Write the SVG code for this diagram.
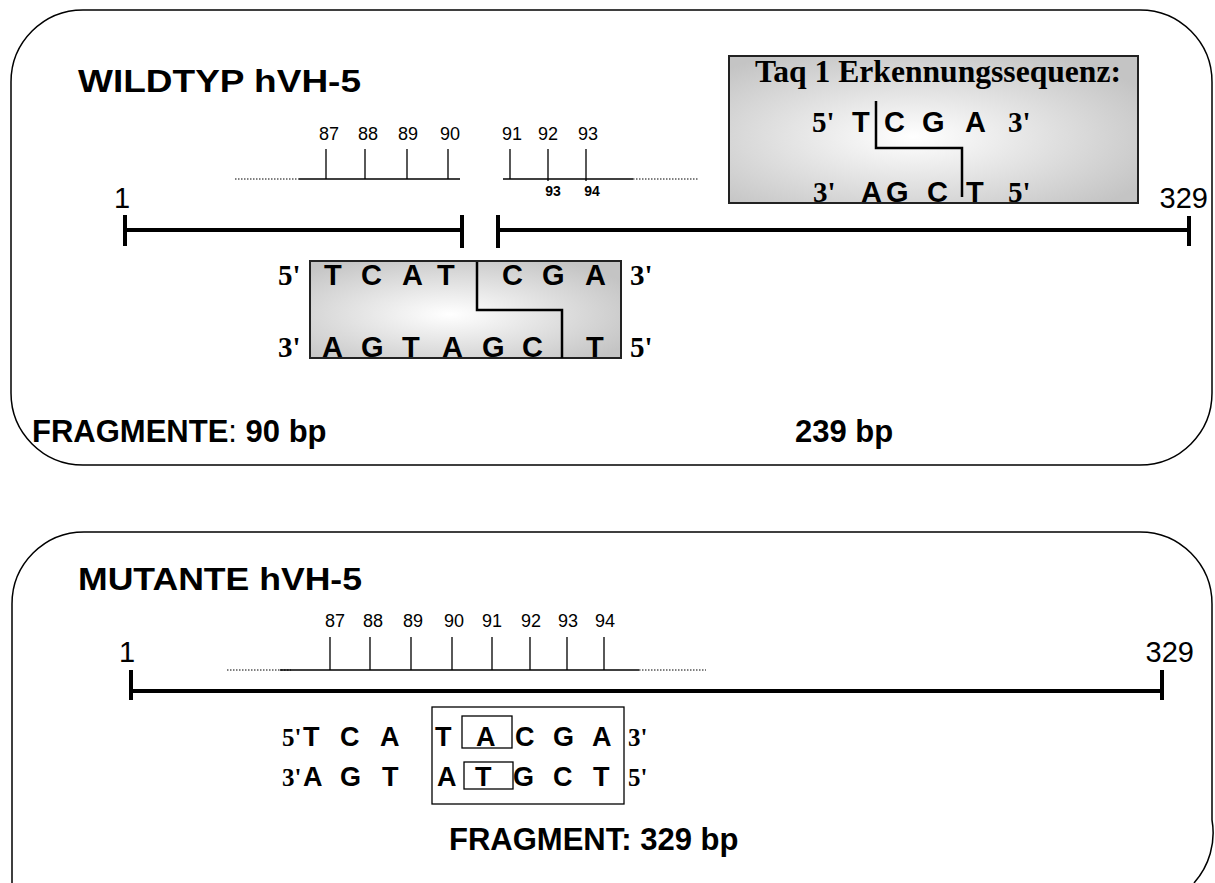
<svg xmlns="http://www.w3.org/2000/svg" width="1215" height="883" viewBox="0 0 1215 883">
<defs>
<radialGradient id="shade" cx="45%" cy="55%" r="65%">
<stop offset="0" stop-color="#ffffff"/>
<stop offset="1" stop-color="#c4c4c4"/>
</radialGradient>
<style>
.frame{fill:none;stroke:#000;stroke-width:1.5}
.box{fill:url(#shade);stroke:#222;stroke-width:2}
.plain{fill:none;stroke:#000;stroke-width:1.3}
.thin{fill:none;stroke:#000;stroke-width:1.3}
.dot{fill:none;stroke:#000;stroke-width:1;stroke-dasharray:1.5 1.5}
.bar{fill:none;stroke:#000;stroke-width:4}
.cut{fill:none;stroke:#000;stroke-width:2.5}
.title{font-family:"Liberation Sans",Arial,sans-serif;font-weight:bold;font-size:32px}
.num{font-family:"Liberation Sans",Arial,sans-serif;font-size:18px;text-anchor:middle}
.numb{font-family:"Liberation Sans",Arial,sans-serif;font-weight:bold;font-size:14px;text-anchor:middle}
.big{font-family:"Liberation Sans",Arial,sans-serif;font-size:29px}
.seq{font-family:"Liberation Sans",Arial,sans-serif;font-weight:bold;font-size:29px}
.end{font-family:"Liberation Serif","Times New Roman",serif;font-weight:bold;font-size:29px}
.seqm{font-family:"Liberation Sans",Arial,sans-serif;font-weight:bold;font-size:27px}
.endm{font-family:"Liberation Serif","Times New Roman",serif;font-weight:bold;font-size:25px}
.taq{font-family:"Liberation Serif","Times New Roman",serif;font-weight:bold;font-size:32px}
.lab{font-family:"Liberation Sans",Arial,sans-serif;font-weight:bold;font-size:31px}
</style>
</defs>

<g id="wildtyp">
<rect class="frame" x="11" y="10" width="1201" height="455" rx="72" ry="72"/>
<text class="title" x="78" y="92" textLength="283" lengthAdjust="spacingAndGlyphs">WILDTYP hVH-5</text>
<text class="big" x="114" y="208">1</text>
<text class="big" x="1208" y="208" text-anchor="end">329</text>
<text class="num" x="329" y="140">87</text>
<text class="num" x="368" y="140">88</text>
<text class="num" x="408" y="140">89</text>
<text class="num" x="450" y="140">90</text>
<text class="num" x="512" y="140">91</text>
<text class="num" x="548" y="140">92</text>
<text class="num" x="588" y="140">93</text>
<text class="numb" x="553" y="196">93</text>
<text class="numb" x="592" y="196">94</text>
<text class="lab" x="32" y="442">FRAGMENTE<tspan font-weight="normal">:</tspan> 90 bp</text>
<text class="lab" x="795" y="442">239 bp</text>
</g>

<g id="taq-box">
<rect class="box" x="729" y="56" width="409" height="147"/>
<text class="taq" x="755" y="82" textLength="366" lengthAdjust="spacingAndGlyphs">Taq 1 Erkennungssequenz:</text>
<text class="end" x="812" y="132">5'</text>
<text class="seq" x="852" y="132">T</text>
<text class="seq" x="884" y="132">C</text>
<text class="seq" x="922" y="132">G</text>
<text class="seq" x="965" y="132">A</text>
<text class="end" x="1008" y="132">3'</text>
<text class="end" x="813" y="202">3'</text>
<text class="seq" x="861" y="202">A</text>
<text class="seq" x="886" y="202">G</text>
<text class="seq" x="927" y="202">C</text>
<text class="seq" x="966" y="202">T</text>
<text class="end" x="1008" y="202">5'</text>
<path class="cut" d="M876,101 V148 H962 V197"/>
</g>

<g id="wt-sequence">
<rect class="box" x="310" y="261" width="311" height="97" stroke-width="1.5"/>
<text class="end" x="278" y="285">5'</text>
<text class="seq" x="324" y="285">T</text>
<text class="seq" x="361" y="285">C</text>
<text class="seq" x="402" y="285">A</text>
<text class="seq" x="437" y="285">T</text>
<text class="seq" x="502" y="285">C</text>
<text class="seq" x="542" y="285">G</text>
<text class="seq" x="585" y="285">A</text>
<text class="end" x="630" y="285">3'</text>
<text class="end" x="278" y="357">3'</text>
<text class="seq" x="322" y="357">A</text>
<text class="seq" x="361" y="357">G</text>
<text class="seq" x="402" y="357">T</text>
<text class="seq" x="442" y="357">A</text>
<text class="seq" x="482" y="357">G</text>
<text class="seq" x="522" y="357">C</text>
<text class="seq" x="586" y="357">T</text>
<text class="end" x="630" y="357">5'</text>
<path class="cut" d="M477,262 V310 H562 V358"/>
</g>

<g id="mutante">
<path class="frame" d="M12,883 V604 A72,72 0 0 1 84,532 H1140 A72,72 0 0 1 1212,604 V820 A75,75 0 0 1 1194,883"/>
<text class="title" x="78" y="590" textLength="284" lengthAdjust="spacingAndGlyphs">MUTANTE hVH-5</text>
<text class="big" x="119" y="662">1</text>
<text class="big" x="1194" y="662" text-anchor="end">329</text>
<text class="num" x="335" y="627">87</text>
<text class="num" x="373" y="627">88</text>
<text class="num" x="413" y="627">89</text>
<text class="num" x="454" y="627">90</text>
<text class="num" x="492" y="627">91</text>
<text class="num" x="531" y="627">92</text>
<text class="num" x="568" y="627">93</text>
<text class="num" x="605" y="627">94</text>
<text class="lab" x="449" y="850">FRAGMENT: 329 bp</text>
</g>

<g id="mut-sequence">
<rect fill="none" stroke="#000" stroke-width="1.3" x="432" y="707" width="192" height="97"/>
<rect fill="none" stroke="#000" stroke-width="1.3" x="462" y="716" width="50" height="32"/>
<rect fill="none" stroke="#000" stroke-width="1.3" x="464" y="762" width="49" height="27"/>
<text class="endm" x="282" y="746">5'</text>
<text class="seqm" x="303" y="746">T</text>
<text class="seqm" x="340" y="746">C</text>
<text class="seqm" x="380" y="746">A</text>
<text class="seqm" x="435" y="746">T</text>
<text class="seqm" x="476" y="746">A</text>
<text class="seqm" x="515" y="746">C</text>
<text class="seqm" x="553" y="746">G</text>
<text class="seqm" x="592" y="746">A</text>
<text class="endm" x="628" y="746">3'</text>
<text class="endm" x="282" y="786">3'</text>
<text class="seqm" x="303" y="786">A</text>
<text class="seqm" x="340" y="786">G</text>
<text class="seqm" x="382" y="786">T</text>
<text class="seqm" x="437" y="786">A</text>
<text class="seqm" x="475" y="786">T</text>
<text class="seqm" x="513" y="786">G</text>
<text class="seqm" x="553" y="786">C</text>
<text class="seqm" x="593" y="786">T</text>
<text class="endm" x="628" y="786">5'</text>
</g>

<g id="connectors">
<path class="dot" d="M235,179 H299"/>
<path class="plain" d="M299,179 H460"/>
<path class="thin" d="M326,149 V179 M365,149 V179 M407,149 V179 M448,149 V179"/>
<path class="plain" d="M503,179 H633"/>
<path class="dot" d="M633,179 H698"/>
<path class="thin" d="M510,149 V179 M548,149 V181 M586,149 V181"/>
<path class="bar" d="M125,215 V246 M125,230 H462 M462,215 V248"/>
<path class="bar" d="M498,215 V248 M498,230 H1189 M1189,216 V246"/>
<path class="dot" d="M227,670 H291"/>
<path class="plain" d="M280,670 H639"/>
<path class="dot" d="M639,670 H706"/>
<path class="thin" d="M330,637 V670 M370,637 V670 M411,637 V670 M452,637 V670 M492,637 V670 M530,637 V670 M567,637 V670 M604,637 V670"/>
<path class="bar" d="M131,670 V700 M131,691 H1162 M1162,670 V700"/>
</g>
</svg>
